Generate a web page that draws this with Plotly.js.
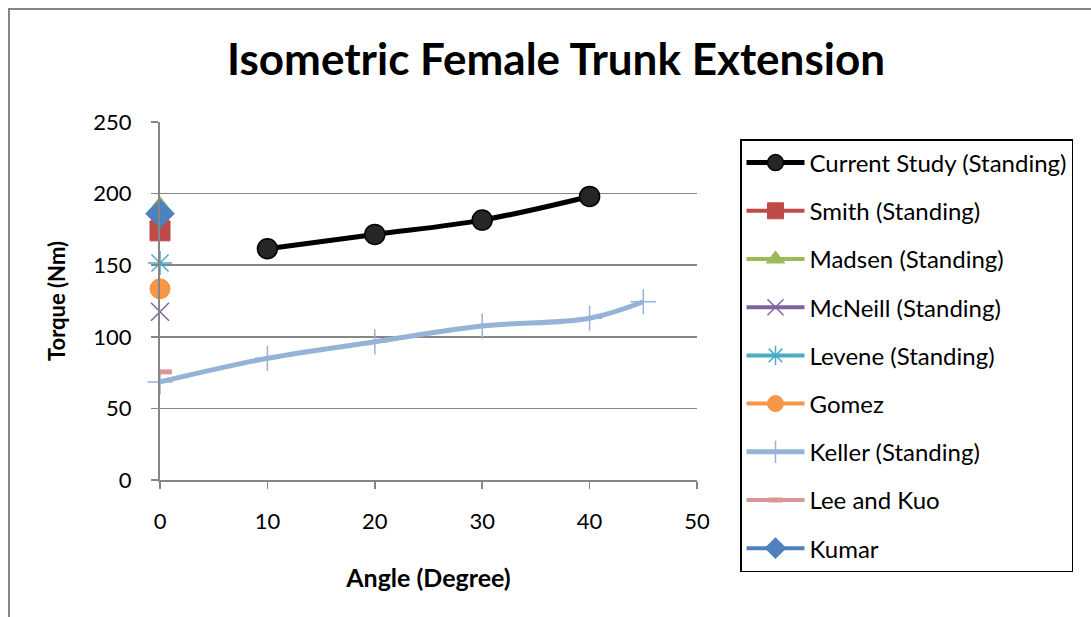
<!DOCTYPE html>
<html><head><meta charset="utf-8">
<script src="https://cdn.plot.ly/plotly-3.0.1.min.js"></script>
<style>html,body{margin:0;padding:0;background:#fff}#chart{width:1091px;height:617px}</style>
</head><body><div id="chart"></div>
<script>
const seriesNames = ["Current Study (Standing)","Smith (Standing)","Madsen (Standing)","McNeill (Standing)","Levene (Standing)","Gomez","Keller (Standing)","Lee and Kuo","Kumar"];
const currentX = [10,20,30,40];
const currentY = [161.5,171.5,181.5,198];
const smithX = [0], smithY = [174];
const madsenX = [0], madsenY = [191];
const mcneillX = [0], mcneillY = [117.5];
const leveneX = [0], leveneY = [151.5];
const gomezX = [0], gomezY = [133.5];
const kellerX = [0,10,20,30,40,45];
const kellerY = [68.5,85,96.5,107.5,113,124.5];
const leeKuoX = [0.45], leeKuoY = [75.5];
const kumarX = [0], kumarY = [186];

const FONT = "Lato, 'Open Sans', sans-serif";
function tr(i, x, y, color, sym, size, extra) {
  const t = {
    x: x, y: y, name: seriesNames[i], type: 'scatter', mode: 'lines+markers',
    legendgroup: 'g'+i, cliponaxis: false,
    line: {color: color, width: 4},
    marker: {symbol: sym, size: size, color: color, line: {color: color, width: 1}}
  };
  return Object.assign(t, extra || {});
}
const traces = [
  tr(0, currentX, currentY, '#000000', 'circle', 20, {line:{color:'#000',width:5,shape:'spline'}, marker:{symbol:'circle',size:20,color:'#262626',line:{color:'#000',width:1.5}}}),
  tr(1, smithX, smithY, '#BE4B48', 'square', 20),
  tr(2, madsenX, madsenY, '#9BBB59', 'triangle-up', 20),
  tr(3, mcneillX, mcneillY, '#8064A2', 'x-thin-open', 18, {marker:{symbol:'x-thin-open',size:18,color:'#8064A2',line:{color:'#8064A2',width:1.5}}}),
  tr(4, leveneX, leveneY, '#4BACC6', 'asterisk-open', 20, {marker:{symbol:'asterisk-open',size:20,color:'#4BACC6',line:{color:'#4BACC6',width:1.5}}}),
  tr(5, gomezX, gomezY, '#F79646', 'circle', 20),
  tr(6, kellerX, kellerY, '#95B3D7', 'cross-thin-open', 18, {line:{color:'#95B3D7',width:5,shape:'spline'}, marker:{symbol:'cross-thin-open',size:18,color:'#95B3D7',line:{color:'#95B3D7',width:1.5}}}),
  tr(7, leeKuoX, leeKuoY, '#D99694', 'line-ew-open', 10, {marker:{symbol:'line-ew-open',size:10,color:'#D99694',line:{color:'#D99694',width:5}}}),
  tr(8, kumarX, kumarY, '#4F81BD', 'diamond', 22)
];
// plot-area pixel box
const L=160, R=697, T=122, B=480;
// outer margin box (taller, so the legend may be taller than the axes)
const MT=100, MB=597;
const GH = MB-MT, W=R-L;
const py = p => (MB-p)/GH;   // pixel y -> paper y
const px = p => (p-L)/W;     // pixel x -> paper x
const layout = {
  width:1091, height:617,
  margin:{l:L, r:1091-R, t:MT, b:617-MB, pad:0, autoexpand:false},
  paper_bgcolor:'#fff', plot_bgcolor:'#fff',
  font:{family:FONT, size:20, color:'#000'},
  title:{text:'<b>Isometric Female Trunk Extension</b>', font:{family:FONT, size:44, color:'#000'}, x:(556)/1091, xanchor:'center', y:1-60/617, yanchor:'middle'},
  xaxis:{range:[0,50], dtick:10, tick0:0, showgrid:false, zeroline:false, showline:true, linecolor:'#868686', linewidth:2,
    ticks:'outside', ticklen:7, tickcolor:'#868686', tickwidth:1.5, tickfont:{family:FONT,size:22}, ticklabelstandoff:14,
    title:{text:'<b>Angle (Degree)</b>', font:{family:FONT,size:25}, standoff:36}, fixedrange:true},
  yaxis:{domain:[py(B), py(T)], range:[0,250], dtick:50, tick0:0, showgrid:true, gridcolor:'#868686', gridwidth:1.5, zeroline:false, showline:true, linecolor:'#868686', linewidth:2,
    ticks:'outside', ticklen:7, tickcolor:'#868686', tickwidth:1.5, tickfont:{family:FONT,size:22}, ticklabelstandoff:15,
    title:{text:'<b>Torque (Nm)</b>', font:{family:FONT,size:22}, standoff:22}, fixedrange:true},
  showlegend:true,
  legend:{x:px(740), y:py(139), xanchor:'left', yanchor:'top', bordercolor:'#000', borderwidth:1.5, bgcolor:'#fff',
    font:{family:FONT,size:24,color:'#000'}, itemwidth:58, tracegroupgap:14, traceorder:'grouped'},
  shapes:[{type:'rect', xref:'paper', yref:'paper', x0:px(9), x1:2.5, y0:-2, y1:py(9), line:{color:'#868686',width:2}, fillcolor:'rgba(0,0,0,0)', layer:'below'}]
};
Plotly.newPlot('chart', traces, layout, {displayModeBar:false, staticPlot:true});
</script></body></html>
